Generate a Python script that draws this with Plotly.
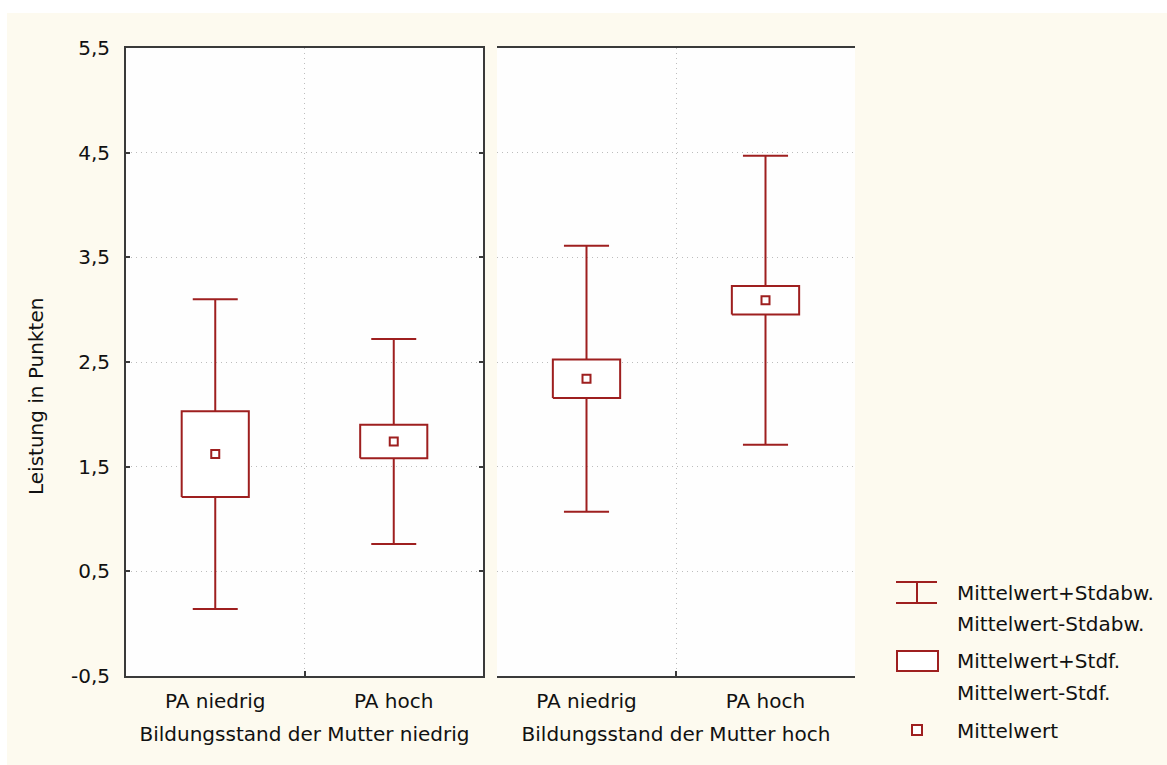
import plotly.graph_objects as go

# Means, standard deviations and standard errors per group
groups = ["Bildungsstand der Mutter niedrig", "Bildungsstand der Mutter hoch"]
categories = ["PA niedrig", "PA hoch"]
means = [[1.62, 1.74], [2.34, 3.09]]
sds = [[1.48, 0.98], [1.27, 1.38]]
ses = [[0.41, 0.16], [0.185, 0.135]]

y_ticks = [-0.5, 0.5, 1.5, 2.5, 3.5, 4.5, 5.5]
y_ticktext = ["-0,5", "0,5", "1,5", "2,5", "3,5", "4,5", "5,5"]

legend_labels = [
    ["Mittelwert+Stdabw.", "Mittelwert-Stdabw."],
    ["Mittelwert+Stdf.", "Mittelwert-Stdf."],
    ["Mittelwert"],
]

RED = "#9e1f1f"
FRAME = "#3a3a3a"
GRID = "#bdbdbd"
PAPER = "#fdfaef"
FONT = "DejaVu Sans"

W, H = 1167, 765
ML, MR, MT, MB = 126, 312, 48, 89
PW, PH = W - ML - MR, H - MT - MB


def px_x(px):
    return (px - ML) / PW


def px_y(py):
    return 1 - (py - MT) / PH


BOX_HALF = 0.188
CAP_HALF = 0.126

fig = go.Figure()

domains = [[0, px_x(483)], [px_x(497), 1]]
xaxes = ["x", "x2"]

for g in range(len(groups)):
    xs = list(range(len(categories)))
    wx, wy, bx, by = [], [], [], []
    for i, x in enumerate(xs):
        m, sd, se = means[g][i], sds[g][i], ses[g][i]
        # whiskers (from box edge to mean +/- SD) with caps
        wx += [x, x, None, x - CAP_HALF, x + CAP_HALF, None,
               x, x, None, x - CAP_HALF, x + CAP_HALF, None]
        wy += [m + se, m + sd, None, m + sd, m + sd, None,
               m - se, m - sd, None, m - sd, m - sd, None]
        # box (mean +/- SE)
        bx += [x - BOX_HALF, x + BOX_HALF, x + BOX_HALF, x - BOX_HALF, x - BOX_HALF, None]
        by += [m - se, m - se, m + se, m + se, m - se, None]
    xa = xaxes[g]
    fig.add_trace(go.Scatter(x=wx, y=wy, mode="lines", xaxis=xa, yaxis="y",
                             line=dict(color=RED, width=2), showlegend=False,
                             hoverinfo="skip"))
    fig.add_trace(go.Scatter(x=bx, y=by, mode="lines", fill="toself",
                             fillcolor="white", xaxis=xa, yaxis="y",
                             line=dict(color=RED, width=2), showlegend=False,
                             hoverinfo="skip"))
    fig.add_trace(go.Scatter(x=xs, y=means[g], mode="markers", xaxis=xa, yaxis="y",
                             marker=dict(symbol="square", size=8, color="white",
                                         line=dict(color=RED, width=2)),
                             showlegend=False))

xaxis_common = dict(
    range=[-0.5, 1.5],
    tickvals=[0, 1], ticktext=categories,
    ticks="", showgrid=False, zeroline=False,
    showline=True, linecolor=FRAME, linewidth=2, mirror=True,
    tickfont=dict(family=FONT, size=20, color="#111111"),
    ticklabelstandoff=6,
    minor=dict(tickvals=[0.5], ticks="inside", ticklen=5, tickcolor=FRAME,
               tickwidth=2, showgrid=True, gridcolor=GRID, griddash="1px,4px",
               gridwidth=1),
    title=dict(font=dict(family=FONT, size=20, color="#111111"), standoff=15),
    fixedrange=True,
)

fig.update_layout(
    width=W, height=H,
    margin=dict(l=ML, r=MR, t=MT, b=MB),
    paper_bgcolor=PAPER,
    plot_bgcolor="#fefefe",
    showlegend=False,
    xaxis=dict(domain=domains[0], anchor="y", **{**xaxis_common, "title": dict(text=groups[0], **xaxis_common["title"])}),
    xaxis2=dict(domain=domains[1], anchor="y2", **{**xaxis_common, "title": dict(text=groups[1], **xaxis_common["title"])}),
    yaxis=dict(
        range=[-0.5, 5.5], tickvals=y_ticks, ticktext=y_ticktext,
        ticks="inside", ticklen=4, tickwidth=2, tickcolor=FRAME,
        showgrid=True, gridcolor=GRID, griddash="1px,4px", gridwidth=1,
        zeroline=False, showline=True, linecolor=FRAME, linewidth=2, mirror="ticks",
        tickfont=dict(family=FONT, size=20, color="#111111"),
        ticklabelstandoff=10, anchor="x", fixedrange=True,
    ),
    yaxis2=dict(
        range=[-0.5, 5.5], tickvals=y_ticks, showticklabels=False,
        ticks="inside", ticklen=4, tickwidth=2, tickcolor=FRAME,
        showgrid=True, gridcolor=GRID, griddash="1px,4px", gridwidth=1,
        zeroline=False, showline=True, linecolor=FRAME, linewidth=2, mirror="ticks",
        anchor="x2", matches="y", fixedrange=True,
    ),
)

shapes = []
annotations = []

# white margin strips at the top and left edge of the page
shapes.append(dict(type="rect", xref="paper", yref="paper", layer="below",
                   x0=px_x(0), x1=px_x(W), y0=px_y(13), y1=px_y(0),
                   fillcolor="white", line=dict(width=0)))
shapes.append(dict(type="rect", xref="paper", yref="paper", layer="below",
                   x0=px_x(0), x1=px_x(7), y0=px_y(H), y1=px_y(0),
                   fillcolor="white", line=dict(width=0)))

# y axis title
annotations.append(dict(text="Leistung in Punkten", xref="paper", yref="paper",
                        x=px_x(36), y=px_y(397), textangle=-90, showarrow=False,
                        xanchor="center", yanchor="middle",
                        font=dict(family=FONT, size=20, color="#111111")))

# legend: whisker symbol
lw = dict(color=RED, width=2)
shapes += [
    dict(type="line", xref="paper", yref="paper", x0=px_x(896), x1=px_x(937),
         y0=px_y(582), y1=px_y(582), line=lw),
    dict(type="line", xref="paper", yref="paper", x0=px_x(896), x1=px_x(937),
         y0=px_y(603), y1=px_y(603), line=lw),
    dict(type="line", xref="paper", yref="paper", x0=px_x(917), x1=px_x(917),
         y0=px_y(582), y1=px_y(603), line=lw),
    # box symbol
    dict(type="rect", xref="paper", yref="paper", x0=px_x(897), x1=px_x(938),
         y0=px_y(671), y1=px_y(651), line=lw, fillcolor="white"),
    # mean symbol
    dict(type="rect", xref="paper", yref="paper", x0=px_x(912), x1=px_x(922),
         y0=px_y(735), y1=px_y(725), line=lw, fillcolor="white"),
]

legend_rows = [[593, 624], [661, 693], [731]]
for labels, rows in zip(legend_labels, legend_rows):
    for text, py in zip(labels, rows):
        annotations.append(dict(text=text, xref="paper", yref="paper",
                                x=px_x(955), y=px_y(py), showarrow=False,
                                xanchor="left", yanchor="middle",
                                font=dict(family=FONT, size=20, color="#111111")))

fig.update_layout(shapes=shapes, annotations=annotations)

fig.write_html("out.html")
